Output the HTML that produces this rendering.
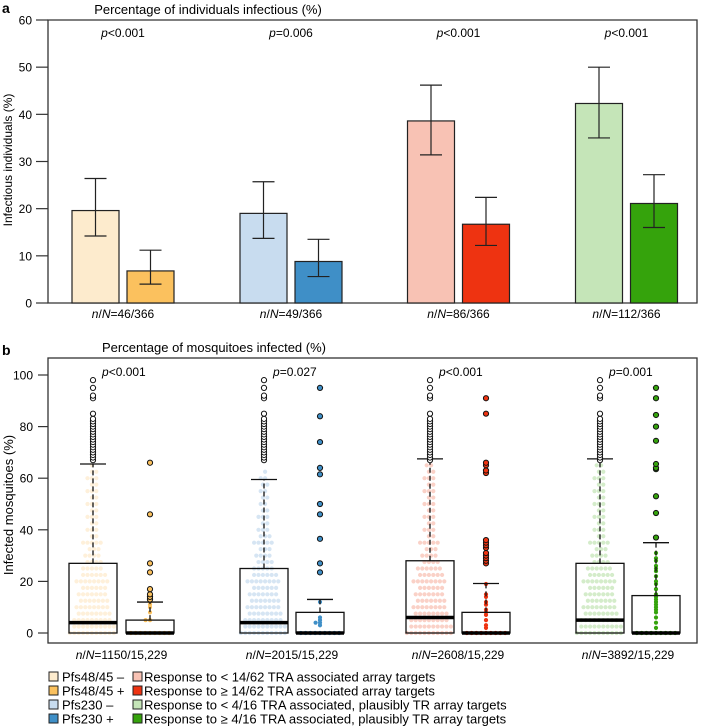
<!DOCTYPE html>
<html><head><meta charset="utf-8">
<style>
body{margin:0;background:#fff;}
svg{display:block;font-family:"Liberation Sans",sans-serif;}
</style></head>
<body>
<svg id="c" width="703" height="728" viewBox="0 0 703 728" xmlns="http://www.w3.org/2000/svg">
<text x="2" y="13" font-size="14" font-weight="bold">a</text>
<text x="208" y="14" font-size="13" text-anchor="middle">Percentage of individuals infectious (%)</text>
<text x="2" y="355" font-size="14" font-weight="bold">b</text>
<text x="214" y="352" font-size="13" text-anchor="middle">Percentage of mosquitoes infected (%)</text>
<g id="ga"></g>
<g id="gb"></g>
<g id="lg"></g>
</svg>
<script>
// ---- Panel a data ----
const barValues = [19.6, 6.8, 19.0, 8.8, 38.6, 16.7, 42.3, 21.1];
const barLow = [14.2, 4.0, 13.7, 5.6, 31.4, 12.2, 35.0, 16.0];
const barHigh = [26.4, 11.2, 25.7, 13.5, 46.2, 22.4, 50.0, 27.2];
const pLabelsA = ["<0.001", "=0.006", "<0.001", "<0.001"];
const nLabelsA = ["=46/366", "=49/366", "=86/366", "=112/366"];
const ticksA = [0, 10, 20, 30, 40, 50, 60];
// ---- Panel b data ----
const boxMedian = [4, 0, 4, 0, 6, 0, 5, 0];
const boxQ3 = [27, 5, 25, 8, 28, 8, 27, 14.5];
const boxWhisker = [65.5, 12, 59.5, 13, 67.5, 19.2, 67.5, 35];
const swarmBins = [0,2.5,5,7.5,10,12.5,15,17.5,20,22.5,25,27.5,30,32.5,35,37.5,40,42.5,45,47.5,50,52.5,55,57.5,60,62.5,65];
const swarmLight1 = [11,10,9,8,8,7,7,6,8,6,5,4,4,3,5,2,3,2,3,2,3,2,3,2,3,2,1];
const swarmLight3 = [11,10,9,8,8,7,7,6,8,6,5,4,4,3,5,3,3,2,3,2,2,2,2,2,2,1,0];
const swarmLight5 = [11,10,9,8,8,7,7,6,8,6,6,4,4,3,5,2,3,2,3,2,3,2,3,2,3,2,2];
const swarmLight7 = [11,10,9,8,8,7,7,6,8,6,6,4,4,3,5,2,3,2,3,2,3,2,3,2,3,2,2];
const darkZeroCount = [0, 9, 0, 9, 0, 9, 0, 9];
const dark2 = [5,5,8,10,11,12];
const dark4 = [3,4,4,5,6,12];
const dark6 = [2,3,5,7,8,9,11,12,14,15,19];
const dark8 = [2,4,6,8,9,10,11,12,13,14,15,17,19,20,22,24,25,26,28,29,31];
const outLight = [67,68,69,70,71,72,73,74,75,76,77,78,79,80,81,82,83,85,91,92,95,98];
const out2 = [13,14,15,17,23.5,27,46,66];
const out4 = [23.5,27,36.5,46,50,61.5,64,74,84,95];
const out6 = [27,28,29,30,31,33,34,35,36,62,63,65,66,85,91];
const out8 = [37,46.5,53,63.5,64,65.5,74.5,80,84.5,91,95];
const pLabelsB = ["<0.001", "=0.027", "<0.001", "=0.001"];
const nLabelsB = ["=1150/15,229", "=2015/15,229", "=2608/15,229", "=3892/15,229"];
const ticksB = [0, 20, 40, 60, 80, 100];
const colors = ["#fdebcd","#fbc15e","#c8dcef","#3f8fc7","#f8c2b4","#ee3311","#c5e5b8","#35a30c"];
const legend1 = ["Pfs48/45 \u2013","Pfs48/45 +","Pfs230 \u2013","Pfs230 +"];
const legend2 = ["Response to < 14/62 TRA associated array targets","Response to \u2265 14/62 TRA associated array targets","Response to < 4/16 TRA associated, plausibly TR array targets","Response to \u2265 4/16 TRA associated, plausibly TR array targets"];

const NS="http://www.w3.org/2000/svg";
function mk(parent,tag,attrs,txt){const e=document.createElementNS(NS,tag);for(const k in attrs)e.setAttribute(k,attrs[k]);if(txt!==undefined)e.textContent=txt;parent.appendChild(e);return e;}
const ya=v=>303-v*283/60;
const yb=v=>633-v*2.58;
const cxA=[95.5,150.5,263.5,318.5,431,486,599,654];
const cxB=[93,150,264,320,430,486,600,656];
const ga=document.getElementById('ga'), gb=document.getElementById('gb'), lg=document.getElementById('lg');

let e=mk(ga,'path',{d:'M48 20H697V303H48Z',fill:'none',stroke:'#333','stroke-width':1.3});


ticksA.forEach(t=>{
  let l=mk(ga,'line',{x1:36,x2:48,y1:ya(t),y2:ya(t),stroke:'#333','stroke-width':1.2});
  
  
  let tx=mk(ga,'text',{x:32,y:ya(t)+4.5,'font-size':12,'text-anchor':'end'},String(t));
  
  
});
e=mk(ga,'text',{x:0,y:0,'font-size':12,'text-anchor':'middle',transform:'translate(12,160) rotate(-90)'},'Infectious individuals (%)');


barValues.forEach((v,i)=>{
  let r=mk(ga,'rect',{x:cxA[i]-23.5,y:ya(v),width:47,height:ya(0)-ya(v),fill:colors[i],stroke:'#222','stroke-width':1.2});
  
  
  let eb=mk(ga,'path',{d:`M${cxA[i]} ${ya(barLow[i])}V${ya(barHigh[i])}M${cxA[i]-11} ${ya(barLow[i])}H${cxA[i]+11}M${cxA[i]-11} ${ya(barHigh[i])}H${cxA[i]+11}`,stroke:'#222','stroke-width':1.2,fill:'none'});
  
  
});
pLabelsA.forEach((p,j)=>{
  const x=(cxA[2*j]+cxA[2*j+1])/2;
  let t=mk(ga,'text',{x:x,y:37,'font-size':12,'text-anchor':'middle'});
  t.innerHTML='<tspan font-style="italic">p</tspan>'+p.replace('<','&lt;');
  
  
  let n=mk(ga,'text',{x:x,y:318,'font-size':12,'text-anchor':'middle'});
  n.innerHTML='<tspan font-style="italic">n</tspan>/<tspan font-style="italic">N</tspan>'+nLabelsA[j];
  
  
});

e=mk(gb,'rect',{x:48,y:358,width:649,height:285,fill:'none',stroke:'#333','stroke-width':1.3});


ticksB.forEach(t=>{
  let l=mk(gb,'line',{x1:38,x2:48,y1:yb(t),y2:yb(t),stroke:'#333','stroke-width':1.2});
  
  
  let tx=mk(gb,'text',{x:33,y:yb(t)+4.5,'font-size':12,'text-anchor':'end'},String(t));
  
  
});
e=mk(gb,'text',{x:0,y:0,'font-size':13,'text-anchor':'middle',transform:'translate(13,505) rotate(-90)'},'Infected mosquitoes (%)');



const swarms=[swarmLight1,null,swarmLight3,null,swarmLight5,null,swarmLight7,null];
const darks=[null,dark2,null,dark4,null,dark6,null,dark8];
const outs=[outLight,out2,outLight,out4,outLight,out6,outLight,out8];
function dot(i,x,v,op){
  let c=mk(gb,'circle',{cx:x,cy:yb(v),r:2.1,fill:colors[i],'fill-opacity':op});
  
  
}
for(let i=0;i<8;i++){
  const cx=cxB[i];
  if(swarms[i]){
    swarmBins.forEach((b,k)=>{const n=swarms[i][k];for(let j=0;j<n;j++)dot(i,cx+(j-(n-1)/2)*4.4+(k%2?1.1:-1.1),b,0.75);});
  } else {
    const n=darkZeroCount[i];
    for(let j=0;j<n;j++)dot(i,cx+(j-(n-1)/2)*4.8,0,1);
    const cnt={};
    darks[i].forEach(v=>{const k=Math.round(v);cnt[k]=(cnt[k]||0)+1;const m=cnt[k];dot(i,cx+(m%2?1:-1)*Math.floor(m/2)*4.4,v,1);});
  }
  let bx=mk(gb,'rect',{x:cx-24,y:yb(boxQ3[i]),width:48,height:yb(0)-yb(boxQ3[i]),fill:'none',stroke:'#111','stroke-width':1.3});
  
  
  let md=mk(gb,'line',{x1:cx-24,x2:cx+24,y1:yb(boxMedian[i]),y2:yb(boxMedian[i]),stroke:'#000','stroke-width':3.5});
  
  
  let wk=mk(gb,'line',{x1:cx,x2:cx,y1:yb(boxQ3[i]),y2:yb(boxWhisker[i]),stroke:'#111','stroke-width':1.3,'stroke-dasharray':'5,3'});
  
  
  let wc=mk(gb,'line',{x1:cx-13,x2:cx+13,y1:yb(boxWhisker[i]),y2:yb(boxWhisker[i]),stroke:'#111','stroke-width':1.3});
  
  
  outs[i].forEach(v=>{
    let o=mk(gb,'circle',{cx:cx,cy:yb(v),r:2.6,fill:i%2?colors[i]:'#fff',stroke:'#111','stroke-width':1});
    
    
  });
}
pLabelsB.forEach((p,j)=>{
  let t=mk(gb,'text',{x:cxB[2*j]+9,y:376,'font-size':12});
  t.innerHTML='<tspan font-style="italic">p</tspan>'+p.replace('<','&lt;');
  
  
  let n=mk(gb,'text',{x:(cxB[2*j]+cxB[2*j+1])/2,y:659,'font-size':12,'text-anchor':'middle'});
  n.innerHTML='<tspan font-style="italic">n</tspan>/<tspan font-style="italic">N</tspan>'+nLabelsB[j];
  
  
});

const rowsY=[677,691,705,719];
const l1c=[colors[0],colors[1],colors[2],colors[3]], l2c=[colors[4],colors[5],colors[6],colors[7]];
legend1.forEach((s,k)=>{
  let r=mk(lg,'rect',{x:49,y:rowsY[k]-5,width:9,height:9,fill:l1c[k],stroke:'#222','stroke-width':1});
  
  
  let t=mk(lg,'text',{x:62,y:rowsY[k]+4.5,'font-size':13},s);
  
  
});
legend2.forEach((s,k)=>{
  let r=mk(lg,'rect',{x:133,y:rowsY[k]-5,width:9,height:9,fill:l2c[k],stroke:'#222','stroke-width':1});
  
  
  let t=mk(lg,'text',{x:144,y:rowsY[k]+4.5,'font-size':13},s);
  
  
});
</script>
</body></html>
